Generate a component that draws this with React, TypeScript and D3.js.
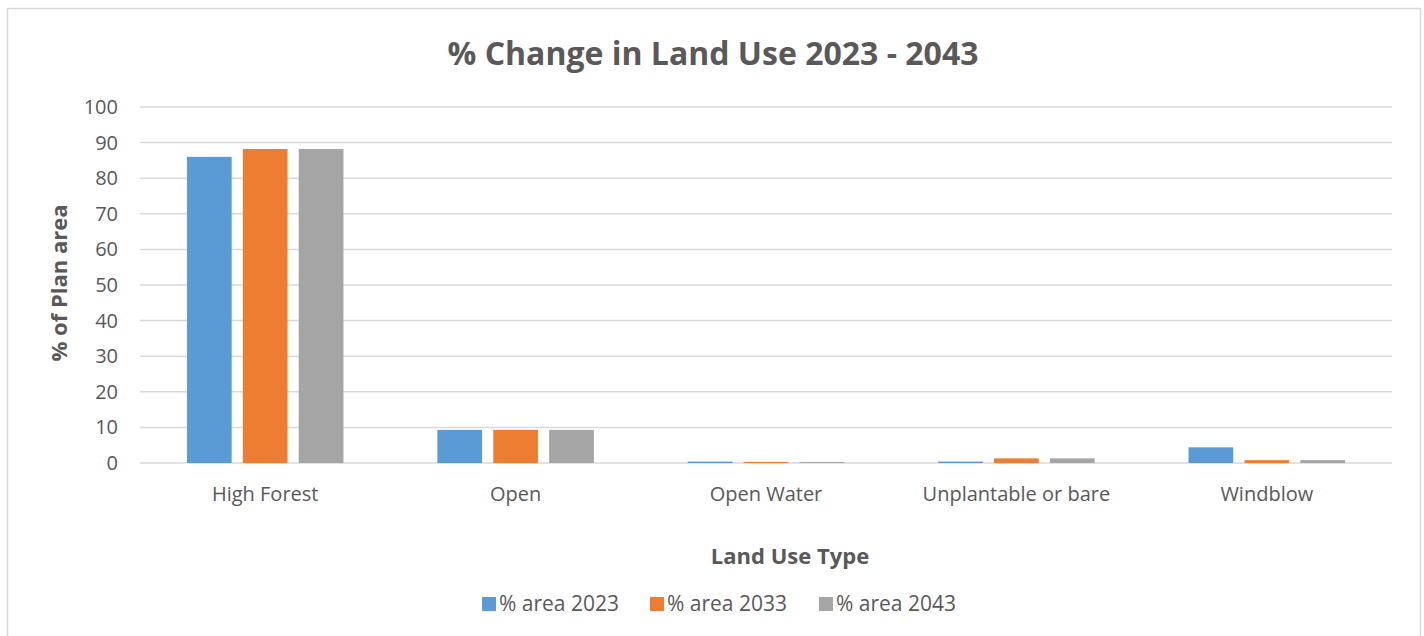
import * as d3 from "d3"
import { useEffect, useRef } from "react"

const categories = ["High Forest", "Open", "Open Water", "Unplantable or bare", "Windblow"]
const seriesNames = ["% area 2023", "% area 2033", "% area 2043"]
const area2023 = [86, 9.3, 0.4, 0.4, 4.4]
const area2033 = [88.2, 9.3, 0.3, 1.3, 0.8]
const area2043 = [88.2, 9.3, 0.3, 1.3, 0.8]
const colors = ["#5b9bd5", "#ed7d31", "#a5a5a5"]
const yTicks = [0, 10, 20, 30, 40, 50, 60, 70, 80, 90, 100]

const WIDTH = 1424
const HEIGHT = 636
const FONT = "'Open Sans', 'Liberation Sans', sans-serif"

const App = () => {
  const svgRef = useRef<SVGSVGElement>(null)

  useEffect(() => {
    if (!svgRef.current) return
    const svg = d3.select(svgRef.current)
    svg.selectAll("*").remove()

    const MARGIN = { top: 107, right: 32, bottom: 173, left: 140 }
    const series = [area2023, area2033, area2043]

    // chart frame
    svg
      .append("rect")
      .attr("x", 7.5)
      .attr("y", 8.5)
      .attr("width", 1413)
      .attr("height", 640)
      .attr("fill", "white")
      .attr("stroke", "#d9d9d9")
      .attr("stroke-width", 1.5)

    const x0 = d3
      .scaleBand()
      .domain(categories)
      .range([MARGIN.left, WIDTH - MARGIN.right])

    const x1 = d3
      .scaleBand()
      .domain(seriesNames)
      .range([0, x0.bandwidth() * 0.625])
      .paddingInner(0.2)

    const y = d3
      .scaleLinear()
      .domain([0, 100])
      .range([HEIGHT - MARGIN.bottom, MARGIN.top])

    // gridlines
    svg
      .append("g")
      .selectAll("line")
      .data(yTicks)
      .join("line")
      .attr("x1", MARGIN.left)
      .attr("x2", WIDTH - MARGIN.right)
      .attr("y1", (d) => y(d))
      .attr("y2", (d) => y(d))
      .attr("stroke", "#d9d9d9")
      .attr("stroke-width", 1.5)

    // y tick labels
    svg
      .append("g")
      .selectAll("text")
      .data(yTicks)
      .join("text")
      .attr("x", 118)
      .attr("y", (d) => y(d))
      .attr("dy", "0.35em")
      .attr("text-anchor", "end")
      .attr("font-family", FONT)
      .attr("font-size", "20px")
      .attr("fill", "#595959")
      .text((d) => d)

    // bars
    const groups = svg
      .append("g")
      .selectAll("g")
      .data(categories)
      .join("g")
      .attr(
        "transform",
        (d) => `translate(${x0(d)! + (x0.bandwidth() - x1.range()[1]) / 2}, 0)`,
      )

    groups
      .selectAll("rect")
      .data((d, i) => series.map((s, j) => ({ key: seriesNames[j], value: s[i], color: colors[j] })))
      .join("rect")
      .attr("x", (d) => x1(d.key)!)
      .attr("width", x1.bandwidth())
      .attr("y", (d) => y(d.value))
      .attr("height", (d) => y(0) - y(d.value))
      .attr("fill", (d) => d.color)

    // x tick labels
    svg
      .append("g")
      .selectAll("text")
      .data(categories)
      .join("text")
      .attr("x", (d) => x0(d)! + x0.bandwidth() / 2)
      .attr("y", 501)
      .attr("text-anchor", "middle")
      .attr("font-family", FONT)
      .attr("font-size", "20px")
      .attr("fill", "#595959")
      .text((d) => d)

    // title
    svg
      .append("text")
      .attr("x", 713)
      .attr("y", 65)
      .attr("text-anchor", "middle")
      .attr("font-family", FONT)
      .attr("font-weight", "bold")
      .attr("font-size", "32px")
      .attr("fill", "#595959")
      .text("% Change in Land Use 2023 - 2043")

    // x axis title
    svg
      .append("text")
      .attr("x", 790)
      .attr("y", 564)
      .attr("text-anchor", "middle")
      .attr("font-family", FONT)
      .attr("font-weight", "bold")
      .attr("font-size", "22px")
      .attr("fill", "#595959")
      .text("Land Use Type")

    // y axis title
    svg
      .append("text")
      .attr("transform", "rotate(-90)")
      .attr("x", -283)
      .attr("y", 67)
      .attr("text-anchor", "middle")
      .attr("font-family", FONT)
      .attr("font-weight", "bold")
      .attr("font-size", "22px")
      .attr("fill", "#595959")
      .text("% of Plan area")

    // legend
    const legendX = [482, 650, 819]
    const legend = svg
      .append("g")
      .selectAll("g")
      .data(seriesNames)
      .join("g")
      .attr("transform", (d, i) => `translate(${legendX[i]}, 604)`)

    legend
      .append("rect")
      .attr("x", 0)
      .attr("y", -7)
      .attr("width", 14)
      .attr("height", 14)
      .attr("fill", (d, i) => colors[i])

    legend
      .append("text")
      .attr("x", 17)
      .attr("y", 0)
      .attr("dy", "0.35em")
      .attr("font-family", FONT)
      .attr("font-size", "21px")
      .attr("fill", "#595959")
      .text((d) => d)
  }, [])

  return (
    <svg
      ref={svgRef}
      width={WIDTH}
      height={HEIGHT}
      style={{ position: "absolute", left: 0, top: 0, display: "block" }}
    />
  )
}

export default App
